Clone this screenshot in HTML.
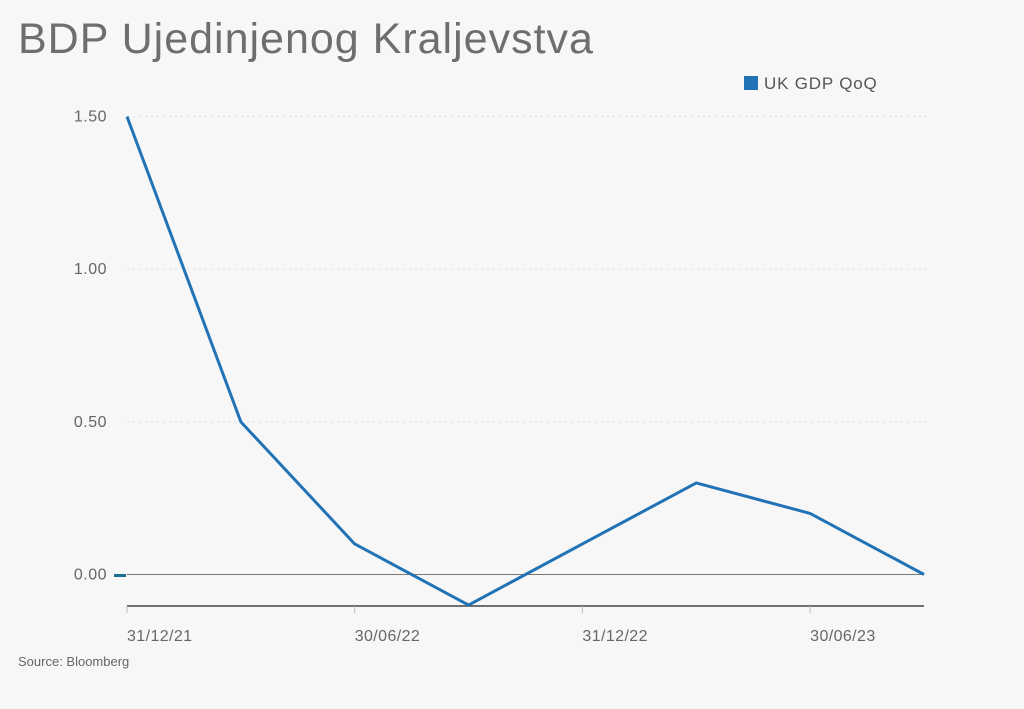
<!DOCTYPE html>
<html><head><meta charset="utf-8">
<style>
html,body{margin:0;padding:0;background:#f7f7f7;}
body{width:1024px;height:704px;overflow:hidden;font-family:"Liberation Sans",sans-serif;}
</style></head>
<body>
<svg width="1024" height="704" xmlns="http://www.w3.org/2000/svg">
<rect width="1024" height="704" fill="#f7f7f7"/>
<text x="18" y="53" font-size="43" letter-spacing="1" fill="#6e6e6e">BDP Ujedinjenog Kraljevstva</text>
<g>
<rect x="744" y="76" width="14" height="14" fill="#2273b5"/>
<text x="764" y="89" font-size="17" letter-spacing="0.8" fill="#555">UK GDP QoQ</text>
</g>
<g id="grid"></g>
<g id="axes"></g>
<g id="series"></g>
<text x="18" y="666" font-size="13" fill="#666">Source: Bloomberg</text>
</svg>
<script>
const categories=["31/12/21","31/03/22","30/06/22","30/09/22","31/12/22","31/03/23","30/06/23","30/09/23"];
const values=[1.5,0.5,0.1,-0.1,0.1,0.3,0.2,0.0];
const yTicks=[0,0.5,1.0,1.5];
const yTickLabels=["0.00","0.50","1.00","1.50"];
const xLabelIdx=[0,2,4,6];
const NS="http://www.w3.org/2000/svg";
const x0=127,x1=924,yZero=574.5,pxPer=305.3;
const xs=i=>x0+(x1-x0)*i/(categories.length-1);
const ys=v=>yZero-v*pxPer;
function mk(tag,attrs,parent,txt){const e=document.createElementNS(NS,tag);for(const k in attrs)e.setAttribute(k,attrs[k]);if(txt!==undefined)e.textContent=txt;document.getElementById(parent).appendChild(e);return e;}
yTicks.forEach((t,i)=>{
  if(t!==0){const g=mk("line",{x1:x0,x2:x1+5,y1:ys(t),y2:ys(t),stroke:"#ddd","stroke-dasharray":"2,4"},"grid");
  
  }
  const l=mk("text",{x:107,y:ys(t)+5,"text-anchor":"end","font-size":"16","letter-spacing":"0.5",fill:"#666"},"axes",yTickLabels[i]);
  
  
});
const zl=mk("line",{x1:x0,x2:x1,y1:yZero,y2:yZero,stroke:"#777","stroke-width":"1"},"axes");


const zm=mk("line",{x1:114,x2:126,y1:yZero+1,y2:yZero+1,stroke:"#1f6f95","stroke-width":"3"},"axes");


const xa=mk("line",{x1:x0,x2:x1,y1:606,y2:606,stroke:"#444","stroke-width":"1.5"},"axes");


xLabelIdx.forEach(i=>{
  const tk=mk("line",{x1:xs(i),x2:xs(i),y1:606,y2:613,stroke:"#bbb"},"axes");
  
  
  const l=mk("text",{x:xs(i),y:641,"font-size":"16","letter-spacing":"0.4",fill:"#666"},"axes",categories[i]);
  
  
});
const pts=values.map((v,i)=>xs(i)+","+ys(v)).join(" ");
const line=mk("polyline",{points:pts,fill:"none",stroke:"#2273b5","stroke-width":"3","stroke-linejoin":"round"},"series");


</script>
</body></html>
